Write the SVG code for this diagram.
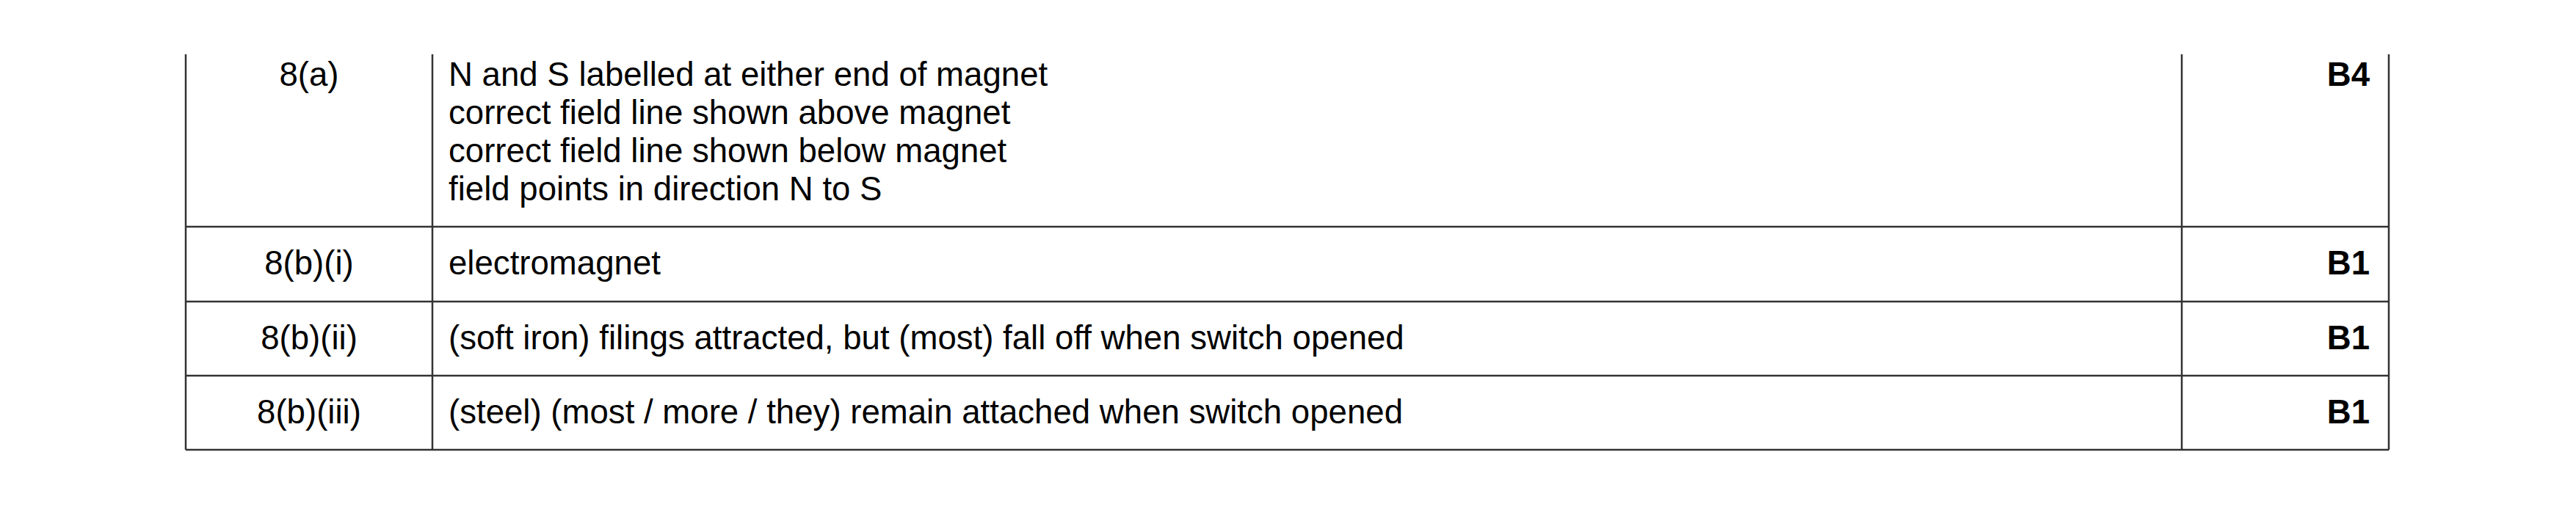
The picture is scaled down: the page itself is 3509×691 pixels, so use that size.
<svg xmlns="http://www.w3.org/2000/svg" width="3509" height="691" viewBox="0 0 3509 691">
<style>
.t{font-family:"Liberation Sans",Arial,sans-serif;font-size:45.6px;fill:#000}
.c{text-anchor:middle}
.b{font-weight:bold;text-anchor:end}
.g line{stroke:#333;stroke-width:2.5}
</style>
<rect width="3509" height="691" fill="#fff"/>
<g class="g" id="grid">
<line x1="253" y1="74" x2="253" y2="613"/>
<line x1="589" y1="74" x2="589" y2="613"/>
<line x1="2972" y1="74" x2="2972" y2="613"/>
<line x1="3254" y1="74" x2="3254" y2="613"/>
<line x1="253" y1="309" x2="3254" y2="309"/>
<line x1="253" y1="411" x2="3254" y2="411"/>
<line x1="253" y1="512" x2="3254" y2="512"/>
<line x1="253" y1="613" x2="3254" y2="613"/>
</g>
<g id="row1">
<text class="t c" x="421" y="117">8(a)</text>
<text class="t" x="611" y="117">N and S labelled at either end of magnet</text>
<text class="t" x="611" y="169">correct field line shown above magnet</text>
<text class="t" x="611" y="221">correct field line shown below magnet</text>
<text class="t" x="611" y="273">field points in direction N to S</text>
<text class="t b" x="3228" y="117">B4</text>
</g>
<g id="row2">
<text class="t c" x="421" y="374">8(b)(i)</text>
<text class="t" x="611" y="374">electromagnet</text>
<text class="t b" x="3228" y="374">B1</text>
</g>
<g id="row3">
<text class="t c" x="421" y="476">8(b)(ii)</text>
<text class="t" x="611" y="476">(soft iron) filings attracted, but (most) fall off when switch opened</text>
<text class="t b" x="3228" y="476">B1</text>
</g>
<g id="row4">
<text class="t c" x="421" y="577">8(b)(iii)</text>
<text class="t" x="611" y="577">(steel) (most / more / they) remain attached when switch opened</text>
<text class="t b" x="3228" y="577">B1</text>
</g>
</svg>
